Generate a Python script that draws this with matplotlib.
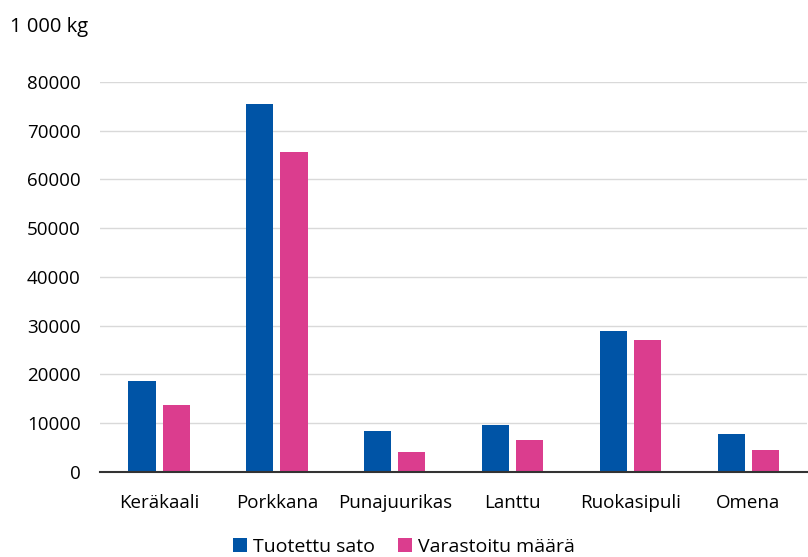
import matplotlib
matplotlib.use("Agg")
import matplotlib.pyplot as plt
import numpy as np

categories = ["Keräkaali", "Porkkana", "Punajuurikas", "Lanttu", "Ruokasipuli", "Omena"]
tuotettu = [18700, 75500, 8500, 9700, 29000, 7850]
varastoitu = [13750, 65700, 4150, 6550, 27100, 4550]
yticks = [0, 10000, 20000, 30000, 40000, 50000, 60000, 70000, 80000]

plt.rcParams['font.family'] = ['Open Sans', 'DejaVu Sans']

fig = plt.figure(figsize=(8.08, 5.57), dpi=100)
ax = fig.add_axes([0.124, 0.1526, 0.875, 0.7002])

x = np.arange(len(categories))
w = 0.23
ax.bar(x - 0.145, tuotettu, w, color="#0054A6", label="Tuotettu sato", zorder=3)
ax.bar(x + 0.145, varastoitu, w, color="#DB3D8E", label="Varastoitu määrä", zorder=3)

ax.set_xlim(-0.5, len(categories) - 0.5)
ax.set_ylim(0, 80000)
ax.set_yticks(yticks)
ax.set_yticklabels([str(v) for v in yticks], fontsize=13.5)
ax.set_xticks(x)
ax.set_xticklabels(categories, fontsize=13.5)
ax.tick_params(axis='x', length=0, pad=16)
ax.tick_params(axis='y', length=0, pad=14)
ax.grid(axis='y', color='#d9d9d9', linewidth=1, zorder=0)
for s in ['top', 'right', 'left']:
    ax.spines[s].set_visible(False)
ax.spines['bottom'].set_color('#333333')
ax.spines['bottom'].set_linewidth(1.5)
ax.spines['bottom'].set_zorder(4)

fig.text(0.012, 0.97, "1 000 kg", fontsize=14.5, va='top', ha='left')
fig.legend(loc='center', bbox_to_anchor=(0.5, 0.018), ncol=2, frameon=False,
           fontsize=14, handlelength=0.7, handleheight=0.7, handletextpad=0.3,
           columnspacing=1.2, borderpad=0)

fig.savefig("out.png", dpi=100)
